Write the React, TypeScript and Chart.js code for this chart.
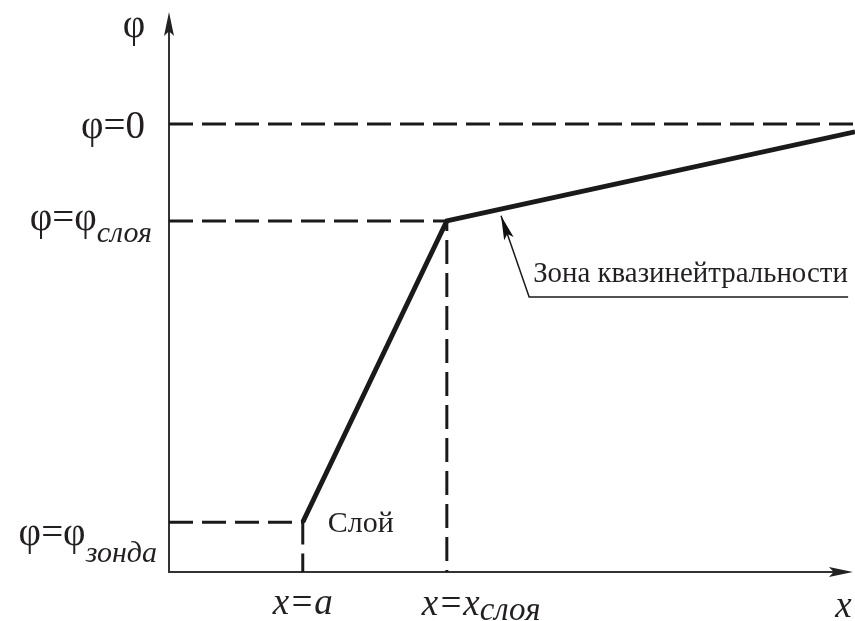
import { useEffect, useRef } from "react";
import { Chart, registerables } from "chart.js";

Chart.register(...registerables);

// ---- data (schematic units: x 0..100, φ 0..100) ----
const profileX = [19.5, 40.5, 100];
const profileY = [8.9, 62.7, 78.6];
const zeroLevel = 80;
const layerX = 40.5;
const layerPhi = 62.7;
const probeX = 19.5;
const probePhi = 8.9;
const calloutX = [99, 52.5, 48.4];
const calloutY = [49.1, 49.1, 63.6];
const axisLabels = ["φ", "x"];
const levelMain = ["φ=0", "φ=φ", "φ=φ"];
const levelSub = ["", "слоя", "зонда"];
const positionMain = ["x=a", "x=x"];
const positionSub = ["", "слоя"];
const regionLabels = ["Слой", "Зона квазинейтральности"];

const INK = "#231f20";
const SERIF = '"Liberation Serif", "Times New Roman", serif';

function pts(xs: number[], ys: number[]) {
  return xs.map((x, i) => ({ x, y: ys[i] }));
}

function drawParts(
  ctx: CanvasRenderingContext2D,
  parts: { text: string; font: string; dy: number }[],
  x: number,
  y: number,
  align: "left" | "right" | "center"
) {
  const widths = parts.map((p) => {
    ctx.font = p.font;
    return ctx.measureText(p.text).width;
  });
  const total = widths.reduce((a, b) => a + b, 0);
  let cx = align === "left" ? x : align === "right" ? x - total : x - total / 2;
  ctx.textAlign = "left";
  ctx.textBaseline = "alphabetic";
  parts.forEach((p, i) => {
    ctx.font = p.font;
    ctx.fillText(p.text, cx, y + p.dy);
    cx += widths[i];
  });
}

function arrowHead(
  ctx: CanvasRenderingContext2D,
  tipX: number,
  tipY: number,
  fromX: number,
  fromY: number,
  len: number,
  half: number,
  color: string
) {
  const ang = Math.atan2(tipY - fromY, tipX - fromX);
  const bx = tipX - Math.cos(ang) * len;
  const by = tipY - Math.sin(ang) * len;
  const nx = -Math.sin(ang) * half;
  const ny = Math.cos(ang) * half;
  ctx.beginPath();
  ctx.moveTo(tipX, tipY);
  ctx.lineTo(bx + nx, by + ny);
  ctx.lineTo(tipX - Math.cos(ang) * len * 0.8, tipY - Math.sin(ang) * len * 0.8);
  ctx.lineTo(bx - nx, by - ny);
  ctx.closePath();
  ctx.fillStyle = color;
  ctx.fill();
}

const diagramPlugin = {
  id: "diagram",
  beforeDatasetsDraw(chart: any) {
    const { ctx, scales } = chart;
    const xs = scales.x;
    const ys = scales.y;
    const x0 = xs.getPixelForValue(0);
    const y0 = ys.getPixelForValue(0);
    const yTop = ys.getPixelForValue(100);
    const xEnd = xs.getPixelForValue(99.7);
    ctx.save();
    ctx.strokeStyle = "#333";
    ctx.lineWidth = 2;
    ctx.beginPath();
    ctx.moveTo(x0, y0);
    ctx.lineTo(x0, yTop + 15);
    ctx.moveTo(x0 - 1, y0);
    ctx.lineTo(xEnd - 15, y0);
    ctx.stroke();
    arrowHead(ctx, x0, yTop, x0, y0, 24, 5, "#222");
    arrowHead(ctx, xEnd, y0, x0, y0, 24, 5, "#222");
    ctx.restore();
  },
  afterDatasetsDraw(chart: any) {
    const { ctx, scales } = chart;
    const xs = scales.x;
    const ys = scales.y;
    const x0 = xs.getPixelForValue(0);
    const y0 = ys.getPixelForValue(0);
    const yTop = ys.getPixelForValue(100);
    ctx.save();

    // callout arrowhead
    const meta = chart.getDatasetMeta(4);
    const p = meta.data;
    const tip = p[p.length - 1];
    const prev = p[p.length - 2];
    arrowHead(ctx, tip.x, tip.y, prev.x, prev.y, 24, 5, "#111");

    ctx.fillStyle = INK;
    const big = `39px ${SERIF}`;
    const bigIt = `italic 37px ${SERIF}`;
    const sub = `italic 30px ${SERIF}`;
    const subX = `italic 33px ${SERIF}`;
    const mid = `30px ${SERIF}`;

    // axis labels
    drawParts(ctx, [{ text: axisLabels[0], font: big, dy: 0 }], x0 - 35, yTop + 25, "center");
    drawParts(ctx, [{ text: axisLabels[1], font: bigIt, dy: 0 }], xs.getPixelForValue(99.5), y0 + 45, "right");

    // level labels
    const levels = [zeroLevel, layerPhi, probePhi];
    const rightGap = [24, 17, 12];
    const mainDy = [14, 9, 23];
    const subDy = [0, 21, 40];
    levels.forEach((v, i) => {
      const py = ys.getPixelForValue(v);
      const parts = [{ text: levelMain[i], font: big, dy: mainDy[i] }];
      if (levelSub[i]) parts.push({ text: levelSub[i], font: sub, dy: subDy[i] });
      drawParts(ctx, parts, x0 - rightGap[i], py, "right");
    });

    // position labels
    const pa = xs.getPixelForValue(probeX);
    drawParts(ctx, [{ text: positionMain[0], font: bigIt, dy: 0 }], pa, y0 + 42, "center");
    const pl = xs.getPixelForValue(layerX);
    drawParts(
      ctx,
      [
        { text: positionMain[1], font: bigIt, dy: 0 },
        { text: positionSub[1], font: subX, dy: 5 },
      ],
      pl - 25,
      y0 + 43,
      "left"
    );

    // region labels
    drawParts(
      ctx,
      [{ text: regionLabels[0], font: mid, dy: 0 }],
      pa + 25,
      ys.getPixelForValue(probePhi) + 10,
      "left"
    );
    const zx = xs.getPixelForValue(calloutX[1]) + 4;
    const zEnd = xs.getPixelForValue(calloutX[0]);
    ctx.font = `30px ${SERIF}`;
    const w30 = ctx.measureText(regionLabels[1]).width;
    const fit = Math.min(30, (30 * (zEnd - zx)) / w30);
    drawParts(
      ctx,
      [{ text: regionLabels[1], font: `${fit.toFixed(1)}px ${SERIF}`, dy: 0 }],
      zx,
      ys.getPixelForValue(calloutY[1]) - 15,
      "left"
    );
    ctx.restore();
  },
};

export default function App() {
  const ref = useRef<HTMLCanvasElement | null>(null);
  useEffect(() => {
    document.body.style.margin = "0";
    const canvas = ref.current;
    if (!canvas) return;
    const dash = [24, 9];
    const chart = new Chart(canvas, {
      type: "scatter",
      data: {
        datasets: [
          {
            data: pts(profileX, profileY),
            showLine: true,
            borderColor: "#1a1a1a",
            borderWidth: 4.8,
            borderJoinStyle: "miter",
            pointRadius: 0,
            clip: false,
          },
          {
            data: pts([0, 100], [zeroLevel, zeroLevel]),
            showLine: true,
            borderColor: "#1a1a1a",
            borderWidth: 3,
            borderDash: dash,
            pointRadius: 0,
            clip: false,
          },
          {
            data: pts([0, layerX, layerX], [layerPhi, layerPhi, 0]),
            showLine: true,
            borderColor: "#1a1a1a",
            borderWidth: 3,
            borderDash: dash,
            pointRadius: 0,
            clip: false,
          },
          {
            data: pts([0, probeX, probeX], [probePhi, probePhi, 0]),
            showLine: true,
            borderColor: "#1a1a1a",
            borderWidth: 3,
            borderDash: dash,
            pointRadius: 0,
            clip: false,
          },
          {
            data: pts(calloutX, calloutY),
            showLine: true,
            borderColor: "#1a1a1a",
            borderWidth: 1.5,
            pointRadius: 0,
            clip: false,
          },
        ],
      },
      options: {
        animation: false,
        responsive: false,
        maintainAspectRatio: false,
        devicePixelRatio: 1,
        events: [],
        layout: { padding: { left: 169, right: 0, top: 12, bottom: 49 } },
        scales: {
          x: { type: "linear", min: 0, max: 100, display: false },
          y: { type: "linear", min: 0, max: 100, display: false },
        },
        plugins: { legend: { display: false }, tooltip: { enabled: false } },
      } as any,
      plugins: [diagramPlugin],
    });
    return () => chart.destroy();
  }, []);
  return (
    <div style={{ width: 855, height: 621, background: "#fff" }}>
      <canvas ref={ref} width={855} height={621} style={{ display: "block" }} />
    </div>
  );
}
